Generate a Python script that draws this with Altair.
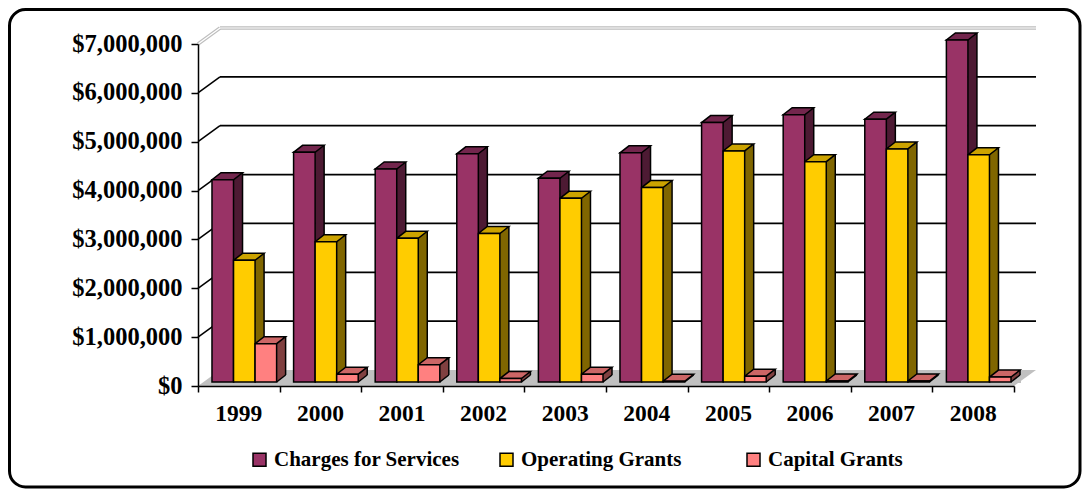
import json
import altair as alt
import pandas as pd

# ---------------- data ----------------
YEARS = ["1999", "2000", "2001", "2002", "2003", "2004", "2005", "2006", "2007", "2008"]
SERIES = ["Charges for Services", "Operating Grants", "Capital Grants"]
CHARGES = [4140000, 4700000, 4360000, 4670000, 4170000, 4690000, 5310000, 5470000, 5380000, 7000000]
OPERATING = [2490000, 2870000, 2940000, 3040000, 3760000, 3980000, 4730000, 4510000, 4770000, 4650000]
CAPITAL = [785000, 160000, 355000, 70000, 160000, 15000, 120000, 20000, 20000, 100000]
TICKS = [0, 1000000, 2000000, 3000000, 4000000, 5000000, 6000000, 7000000]

# ---------------- style ----------------
FRONT = ["#993366", "#FFCC00", "#FF8080"]
TOPC = ["#73264D", "#CCA300", "#CC6666"]
SIDE = ["#4D1A33", "#806600", "#804040"]
FLOOR = "#C0C0C0"
FONT = "Liberation Serif"

W, H = 816, 342
PAD_L, PAD_T = 198, 44
PAD_R, PAD_B = 1082 - PAD_L - W, 489 - PAD_T - H
GAP = 0.104          # category units before first bar
BARF = 0.264         # bar width in category units
BW = W / 10 * BARF   # bar width in px
FDX, FDY = 5.5, -4   # bar front plane offset
SDX, SDY = 9, -7     # bar depth
WDX, WDY = 22, -16   # back wall offset

rows = []
for s, vals in enumerate([CHARGES, OPERATING, CAPITAL]):
    for i, v in enumerate(vals):
        rows.append({"year": YEARS[i], "i": i, "s": s, "series": SERIES[s], "value": v})
df = pd.DataFrame(rows)
tick_df = pd.DataFrame({"v": TICKS})
year_df = pd.DataFrame({"year": YEARS, "i": list(range(len(YEARS)))})
one = pd.DataFrame({"k": [0]})

xs = alt.Scale(domain=[0, 10], nice=False, zero=False)
ys = alt.Scale(domain=[0, 7000000], nice=False, zero=True)

yaxis = alt.Axis(values=TICKS, format="$,.0f", title=None, grid=False, tickSize=7,
                 tickWidth=1.5, tickColor="black", domainColor="black", domainWidth=1.5,
                 labelFont=FONT, labelFontWeight="bold", labelFontSize=24.5, labelColor="black",
                 labelPadding=9, labelOverlap=False, zindex=1)
xaxis = alt.Axis(values=list(range(11)), labels=False, title=None, grid=False, tickSize=6,
                 tickWidth=1.5, tickColor="black", domainColor="black", domainWidth=1.5,
                 zindex=1)

base = alt.Chart(df).transform_calculate(
    x0=f"datum.i + {GAP} + datum.s * {BARF}",
    x1=f"datum.i + {GAP} + (datum.s + 1) * {BARF}",
    sidec=json.dumps(SIDE) + "[datum.s]",
    topc=json.dumps(TOPC) + "[datum.s]",
)

X0 = alt.X("x0:Q", scale=xs, axis=None)
X1 = alt.X("x1:Q", scale=xs, axis=None)
YV = alt.Y("value:Q", scale=ys, axis=None)

# floor
floor = alt.Chart(one).mark_rect(color=FLOOR, x2Offset=WDX, y2Offset=WDY).encode(
    x=alt.XDatum(0, scale=xs, axis=None, type="quantitative"), x2=alt.X2Datum(10),
    y=alt.YDatum(0, scale=ys, axis=None, type="quantitative"), y2=alt.Y2Datum(0))
floor_l = alt.Chart(one).mark_point(
    shape=f"M0,0 L{WDX},{WDY} L-1,{WDY} L-1,0 Z", size=4, filled=True, fill="white",
    opacity=1, strokeWidth=0).encode(
    x=alt.XDatum(0, scale=xs, axis=None, type="quantitative"),
    y=alt.YDatum(0, scale=ys, axis=None, type="quantitative"))
floor_r = alt.Chart(one).mark_point(
    shape=f"M0,0 L{WDX},{WDY} L{WDX+2},{WDY} L{WDX+2},1 L0,1 Z", size=4, filled=True,
    fill="white", opacity=1, strokeWidth=0).encode(
    x=alt.XDatum(10, scale=xs, axis=None, type="quantitative"),
    y=alt.YDatum(0, scale=ys, axis=None, type="quantitative"))

# axes carrier: invisible layer with field encodings
axes = alt.Chart(tick_df).transform_calculate(z="0").mark_point(opacity=0, size=1).encode(
    x=alt.X("z:Q", scale=xs, axis=xaxis),
    y=alt.Y("v:Q", scale=ys, axis=yaxis))

# back wall grid lines + left wall diagonals
grid = alt.Chart(tick_df).transform_filter("datum.v > 0 && datum.v < 7000000").mark_rule(
    xOffset=WDX, x2Offset=WDX, yOffset=WDY, color="black", strokeWidth=1.8).encode(
    x=alt.XDatum(0, scale=xs, axis=None, type="quantitative"), x2=alt.X2Datum(10),
    y=alt.Y("v:Q", scale=ys, axis=None))
diag = alt.Chart(tick_df).transform_filter("datum.v > 0 && datum.v < 7000000").mark_rule(
    x2Offset=WDX, y2Offset=WDY, color="black", strokeWidth=1.5).encode(
    x=alt.XDatum(0, scale=xs, axis=None, type="quantitative"), x2=alt.X2Datum(0),
    y=alt.Y("v:Q", scale=ys, axis=None), y2="v:Q")
top_layers = []
for col, sw in [("#BDBDBD", 3.5), ("white", 1.2)]:
    top_layers.append(alt.Chart(tick_df).transform_filter("datum.v >= 7000000").mark_rule(
        xOffset=WDX, x2Offset=WDX, yOffset=WDY, color=col, strokeWidth=sw).encode(
        x=alt.XDatum(0, scale=xs, axis=None, type="quantitative"), x2=alt.X2Datum(10),
        y=alt.Y("v:Q", scale=ys, axis=None)))
    top_layers.append(alt.Chart(tick_df).transform_filter("datum.v >= 7000000").mark_rule(
        x2Offset=WDX, y2Offset=WDY, color=col, strokeWidth=sw).encode(
        x=alt.XDatum(0, scale=xs, axis=None, type="quantitative"), x2=alt.X2Datum(0),
        y=alt.Y("v:Q", scale=ys, axis=None), y2="v:Q"))

# year labels centred in each category on the front plane
year_text = alt.Chart(year_df).transform_calculate(c="datum.i + 0.5").mark_text(
    font=FONT, fontWeight="bold", fontSize=23.5, color="black", baseline="middle",
    align="center", dy=28).encode(
    x=alt.X("c:Q", scale=xs, axis=None),
    y=alt.YDatum(0, scale=ys, axis=None, type="quantitative"), text="year:N")

# bar side faces
side = base.mark_rect(xOffset=FDX, x2Offset=FDX + SDX, yOffset=FDY + SDY, y2Offset=FDY,
                      strokeWidth=0).encode(
    x=X1, x2="x1:Q", y=YV, y2=alt.Y2Datum(0), fill=alt.Fill("sidec:N", scale=None))
side_fix = base.mark_point(
    shape=f"M0,0 L{SDX},{SDY} L{SDX+1},{SDY} L{SDX+1},1 L0,1 Z", size=4, filled=True,
    fill=FLOOR, opacity=1, strokeWidth=0, xOffset=FDX, yOffset=FDY).encode(
    x=X1, y=alt.YDatum(0, scale=ys, axis=None, type="quantitative"))
side_edge = base.mark_rule(xOffset=FDX + SDX, yOffset=FDY + SDY, y2Offset=FDY + SDY,
                           color="black", strokeWidth=1.5).encode(
    x=X1, y=YV, y2=alt.Y2Datum(0))
side_bot = base.mark_rule(xOffset=FDX, x2Offset=FDX + SDX, yOffset=FDY, y2Offset=FDY + SDY,
                          color="black", strokeWidth=1.5).encode(
    x=X1, x2="x1:Q", y=alt.YDatum(0, scale=ys, axis=None, type="quantitative"),
    y2=alt.Y2Datum(0))

# bar top faces
top = base.mark_point(
    shape=f"M0,0 L{BW:.2f},0 L{BW + SDX:.2f},{SDY} L{SDX},{SDY} Z", size=4, filled=True,
    opacity=1, stroke="black", strokeWidth=1.5, strokeOpacity=1, strokeJoin="miter",
    xOffset=FDX, yOffset=FDY).encode(
    x=X0, y=YV, fill=alt.Fill("topc:N", scale=None))

# bar front faces
front = base.mark_rect(xOffset=FDX, x2Offset=FDX, yOffset=FDY, y2Offset=FDY,
                       stroke="black", strokeWidth=1.5, opacity=1).encode(
    x=X0, x2="x1:Q", y=YV, y2=alt.Y2Datum(0),
    color=alt.Color("series:N", scale=alt.Scale(domain=SERIES, range=FRONT),
                    legend=alt.Legend(orient="none", legendX=51, legendY=405,
                                      direction="horizontal", title=None,
                                      symbolType="square", symbolSize=169,
                                      symbolStrokeColor="black", symbolStrokeWidth=1.5,
                                      symbolOpacity=1, labelFont=FONT,
                                      labelFontWeight="bold", labelFontSize=21,
                                      labelColor="black", labelOffset=4, labelLimit=400,
                                      columnPadding=36, gridAlign="all", padding=0)))

# outer frame
frame = alt.Chart(one).mark_rect(fillOpacity=0, stroke="black", strokeWidth=3,
                                 cornerRadius=16).encode(
    x=alt.value(9.5 - PAD_L), x2=alt.value(1080 - PAD_L),
    y=alt.value(9.5 - PAD_T), y2=alt.value(487 - PAD_T))

chart = alt.layer(
    floor, floor_l, floor_r, grid, diag, *top_layers, year_text,
    side, side_fix, side_edge, side_bot, top, front, frame, axes
).resolve_axis(x="independent", y="independent").properties(
    width=W, height=H,
    autosize=alt.AutoSizeParams(type="none"),
    padding={"left": PAD_L, "top": PAD_T, "right": PAD_R, "bottom": PAD_B},
    background="white",
).configure_view(stroke=None)

chart.save("out.html", embed_options={"renderer": "svg", "actions": False})
